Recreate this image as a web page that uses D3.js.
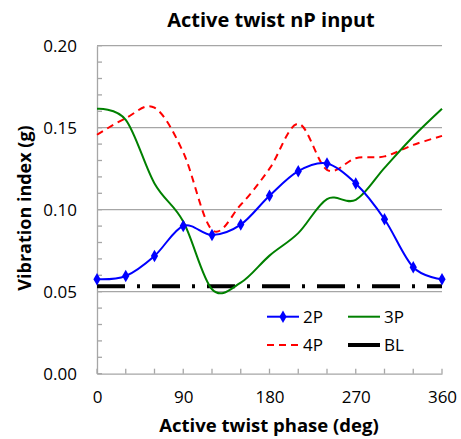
<!DOCTYPE html>
<html><head><meta charset="utf-8">
<script src="https://cdn.jsdelivr.net/npm/d3@7"></script>
<style>body{margin:0;background:#fff}svg{display:block}text{font-family:"Open Sans",sans-serif}</style>
</head><body>
<svg id="c" width="461" height="439"></svg>
<script>
const phases = [0,30,60,90,120,150,180,210,240,270,300,330,360];
const p2 = [0.0576,0.0596,0.0718,0.0901,0.0846,0.0909,0.1085,0.1235,0.1282,0.1160,0.0942,0.0649,0.0576];
const p3 = [0.1615,0.1548,0.1160,0.0928,0.0515,0.0555,0.0720,0.0857,0.1065,0.1060,0.1255,0.1446,0.1615];
const p4 = [0.1457,0.1558,0.1622,0.1350,0.0877,0.1030,0.1250,0.1524,0.1243,0.1314,0.1325,0.1395,0.1450];
const blValue = 0.0533;
const yTicks = [0,0.05,0.10,0.15,0.20];
const xTicks = [0,90,180,270,360];
const seriesNames = ["2P","3P","4P","BL"];

const svg = d3.select("#c");
const L=97,R=442,T=45.7,B=373.7;
const x = d3.scaleLinear().domain([0,360]).range([L,R]);
const y = d3.scaleLinear().domain([0,0.2]).range([B,T]);
const grid="#a6a6a6";

svg.append("g").selectAll("line").data(yTicks.filter(d=>d>0)).join("line")
  .attr("x1",L).attr("x2",R).attr("y1",d=>y(d)).attr("y2",d=>y(d))
  .attr("stroke",grid).attr("stroke-width",1.3);

const ya = svg.append("g").attr("transform",`translate(${L},0)`)
  .call(d3.axisLeft(y).tickValues(yTicks).tickFormat(d3.format(".2f")).tickSize(0).tickPadding(20));
ya.select(".domain").attr("stroke",grid).attr("stroke-width",1.3);
ya.selectAll("text").attr("font-size",17).attr("fill","#000").attr("font-family","'Open Sans',sans-serif");
svg.append("g").selectAll("line").data(d3.range(0,0.2001,0.01)).join("line")
  .attr("x1",L).attr("x2",L+5).attr("y1",d=>y(d)).attr("y2",d=>y(d))
  .attr("stroke",grid).attr("stroke-width",1.3);

const xa = svg.append("g").attr("transform",`translate(0,${B})`)
  .call(d3.axisBottom(x).tickValues(xTicks).tickSize(0).tickPadding(17));
xa.select(".domain").attr("stroke",grid).attr("stroke-width",1.3);
xa.selectAll("text").attr("font-size",17).attr("fill","#000").attr("font-family","'Open Sans',sans-serif");
svg.append("g").selectAll("line").data(d3.range(0,361,30)).join("line")
  .attr("x1",d=>x(d)).attr("x2",d=>x(d)).attr("y1",B).attr("y2",B-5)
  .attr("stroke",grid).attr("stroke-width",1.3);

const curve = d3.curveCardinal.tension(0);
const line = vals => d3.line().x((d,i)=>x(phases[i])).y(d=>y(d)).curve(curve)(vals);

svg.append("line").attr("x1",L).attr("x2",R).attr("y1",y(blValue)).attr("y2",y(blValue))
  .attr("stroke","#000").attr("stroke-width",4).attr("stroke-dasharray","28,12,3,12");
svg.append("path").attr("d",line(p4)).attr("fill","none").attr("stroke","#ff0000")
  .attr("stroke-width",2).attr("stroke-dasharray","7,5");
svg.append("path").attr("d",line(p3)).attr("fill","none").attr("stroke","#008000").attr("stroke-width",2);
svg.append("path").attr("d",line(p2)).attr("fill","none").attr("stroke","#0000ff").attr("stroke-width",2);
const diamond = d3.symbol().type(d3.symbolDiamond).size(45);
svg.append("g").selectAll("path").data(p2).join("path")
  .attr("d",diamond).attr("transform",(d,i)=>`translate(${x(phases[i])},${y(d)})`).attr("fill","#0000ff");

const leg = svg.append("g");
const items = [
  {n:seriesNames[0],x:267,y:316.7,c:"#0000ff",w:2,da:null,m:true},
  {n:seriesNames[1],x:348,y:316.7,c:"#008000",w:2,da:null},
  {n:seriesNames[2],x:267,y:345,c:"#ff0000",w:2,da:"7,5"},
  {n:seriesNames[3],x:348,y:345,c:"#000",w:4,da:null}
];
items.forEach(it=>{
  leg.append("line").attr("x1",it.x).attr("x2",it.x+32).attr("y1",it.y).attr("y2",it.y)
    .attr("stroke",it.c).attr("stroke-width",it.w).attr("stroke-dasharray",it.da);
  if(it.m) leg.append("path").attr("d",diamond).attr("transform",`translate(${it.x+16},${it.y})`).attr("fill",it.c);
  leg.append("text").attr("x",it.x+36).attr("y",it.y+6).attr("font-size",17).text(it.n);
});

svg.append("text").attr("x",271).attr("y",27).attr("text-anchor","middle")
  .attr("font-size",20).attr("font-weight","bold").text("Active twist nP input");
svg.append("text").attr("x",269).attr("y",432).attr("text-anchor","middle")
  .attr("font-size",18.5).attr("font-weight","bold").text("Active twist phase (deg)");
svg.append("text").attr("transform","translate(31,208) rotate(-90)").attr("text-anchor","middle")
  .attr("font-size",18).attr("font-weight","bold").text("Vibration index (g)");
</script>
</body></html>
